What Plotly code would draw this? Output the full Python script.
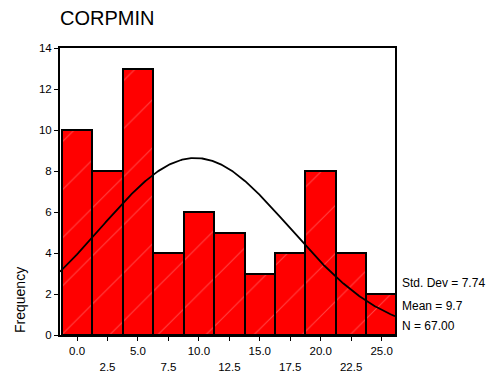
import numpy as np
import plotly.graph_objects as go

# Data
bin_centers = [0.0, 2.5, 5.0, 7.5, 10.0, 12.5, 15.0, 17.5, 20.0, 22.5, 25.0]
counts = [10, 8, 13, 4, 6, 5, 3, 4, 8, 4, 2]
even_ticks = [0.0, 5.0, 10.0, 15.0, 20.0, 25.0]
even_labels = ["0.0", "5.0", "10.0", "15.0", "20.0", "25.0"]
odd_ticks = [2.5, 7.5, 12.5, 17.5, 22.5]
odd_labels = ["2.5", "7.5", "12.5", "17.5", "22.5"]
y_ticks = [0, 2, 4, 6, 8, 10, 12, 14]
std_dev = 7.74
mean = 9.7
n = 67
bin_width = 2.5
title_text = "CORPMIN"
stats_labels = ["Std. Dev = 7.74", "Mean = 9.7", "N = 67.00"]

FONT = "Liberation Sans, Arial, sans-serif"
xr = [-1.4, 26.1]

fig = go.Figure()
fig.add_trace(go.Bar(
    x=bin_centers, y=counts, width=bin_width,
    marker=dict(color="#ff0000",
                line=dict(color="black", width=2),
                pattern=dict(shape="/", size=34, solidity=0.03,
                             fgcolor="#ff8a8a", bgcolor="#ff0000")),
    showlegend=False, xaxis="x", yaxis="y",
))

# fitted normal curve
xc = np.linspace(xr[0], xr[1], 300)
yc = n * bin_width / (std_dev * np.sqrt(2 * np.pi)) * np.exp(-0.5 * ((xc - mean) / std_dev) ** 2)
fig.add_trace(go.Scatter(x=xc, y=yc, mode="lines",
                         line=dict(color="black", width=1.8),
                         showlegend=False, hoverinfo="skip"))

# invisible trace on xaxis2 for second row of labels
fig.add_trace(go.Scatter(x=[odd_ticks[0]], y=[0], mode="markers",
                         marker=dict(opacity=0), xaxis="x2", yaxis="y",
                         showlegend=False, hoverinfo="skip"))

fig.update_layout(
    width=490, height=373,
    margin=dict(l=60, r=95, t=48, b=38),
    paper_bgcolor="white", plot_bgcolor="white",
    bargap=0,
    font=dict(family=FONT, color="black", size=11.5),
    xaxis=dict(range=xr, tickvals=bin_centers,
               ticktext=[even_labels[even_ticks.index(v)] if v in even_ticks else "" for v in bin_centers],
               ticks="outside", ticklen=4, tickwidth=1, tickcolor="black",
               showline=True, linecolor="black", linewidth=2, mirror=True,
               showgrid=False, zeroline=False, automargin=False,
               tickfont=dict(size=11.5, family=FONT)),
    xaxis2=dict(range=xr, overlaying="x", anchor="y", side="bottom",
                tickvals=odd_ticks, ticktext=odd_labels, ticks="",
                ticklabelstandoff=23, automargin=False,
                showline=False, showgrid=False, zeroline=False,
                tickfont=dict(size=11.5, family=FONT)),
    yaxis=dict(range=[0, 14], tickvals=y_ticks,
               ticks="outside", ticklen=4, tickwidth=1, tickcolor="black",
               showline=True, linecolor="black", linewidth=2, mirror=True,
               showgrid=False, zeroline=False, automargin=False,
               tickfont=dict(size=11.5, family=FONT)),
)

fig.add_annotation(text=title_text, xref="paper", yref="paper",
                   x=-0.005, y=1.0, xanchor="left", yanchor="bottom", yshift=17,
                   showarrow=False, font=dict(size=20, family=FONT, color="black"))
fig.add_annotation(text="Frequency", xref="paper", yref="paper",
                   x=0, y=0.0, xshift=-40, yshift=35, textangle=-90,
                   xanchor="center", yanchor="middle",
                   showarrow=False, font=dict(size=14, family=FONT, color="black"))
for i, (lab, dy) in enumerate(zip(stats_labels, [52, 29, 9])):
    fig.add_annotation(text=lab, xref="paper", yref="paper",
                       x=1.0, y=0.0, xanchor="left", yanchor="middle",
                       xshift=5, yshift=dy, showarrow=False,
                       font=dict(size=12, family=FONT, color="black"))

fig.write_html("out.html", config={"displayModeBar": False},
               post_script="document.body.style.margin='0';document.body.style.overflow='hidden';")
